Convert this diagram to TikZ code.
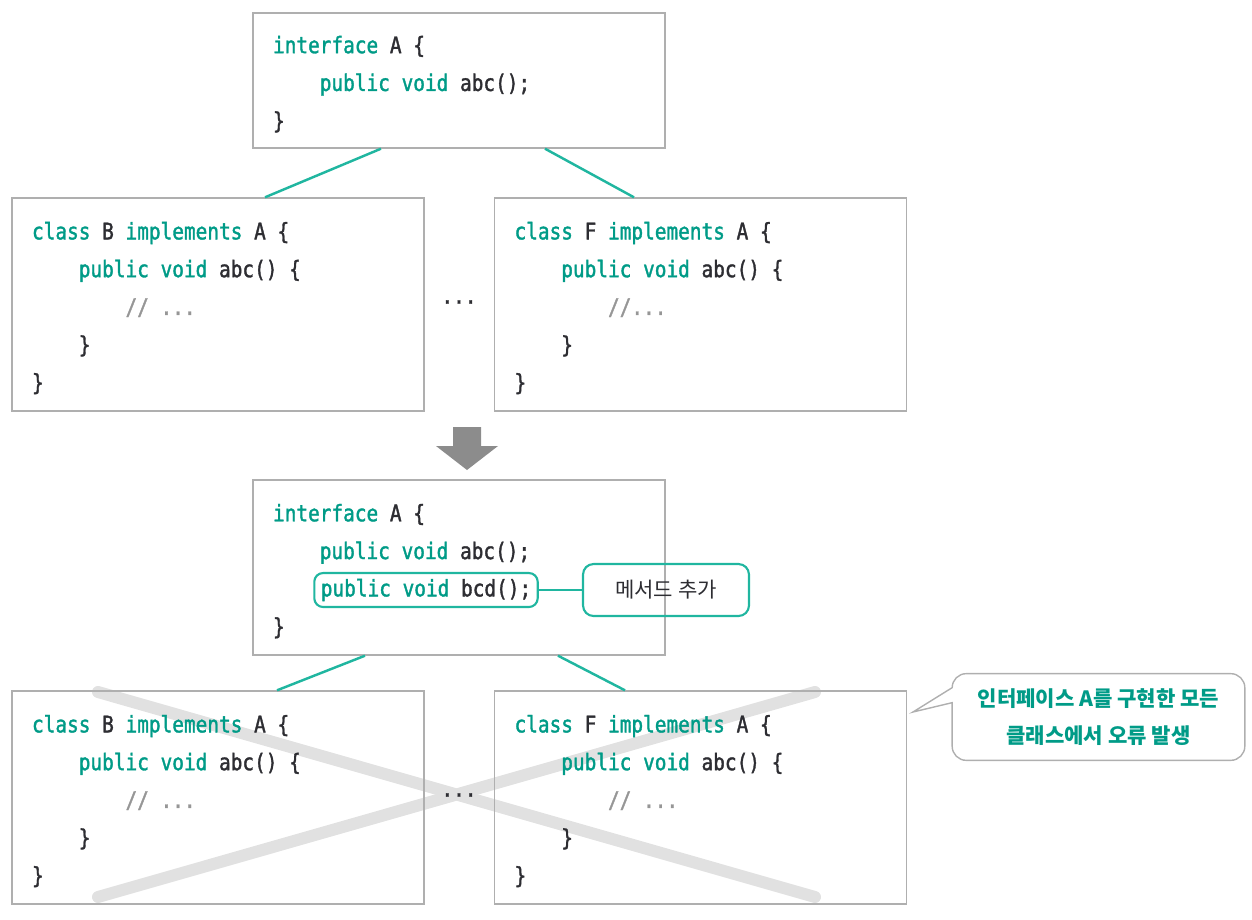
\documentclass[tikz,border=0pt]{standalone}
\usepackage{fontspec}
\usepackage{xcolor}
\usepackage{tikz}
\usetikzlibrary{calc, positioning}

\newfontfamily\codefont{DejaVu Sans Mono}[FakeStretch=0.85, FakeBold=1.5]
\newfontfamily\krfont{Noto Sans CJK KR}

\definecolor{kwteal}{RGB}{0,155,135}
\definecolor{lineteal}{RGB}{32,182,160}
\definecolor{codedark}{RGB}{45,45,50}
\definecolor{cmtgray}{RGB}{150,150,150}
\definecolor{boxgray}{RGB}{175,175,175}
\definecolor{crossgray}{RGB}{225,225,225}
\definecolor{arrowgray}{RGB}{140,140,140}

\newlength{\monow}
\newcommand{\codesetup}{\codefont\fontsize{13}{21.5}\selectfont\settowidth{\monow}{x}}
\newcommand{\kw}[1]{\textcolor{kwteal}{#1}}
\newcommand{\cmt}[1]{\textcolor{cmtgray}{#1}}
\newcommand{\ind}{\hphantom{xxxx}}

\begin{document}
\begin{tikzpicture}[x=0.02cm, y=-0.02cm, font=\codesetup, text=codedark]
\tikzstyle{codebox} = [draw=boxgray, line width=0.8pt, rectangle, align=left, text width=7.44cm, inner xsep=0.4cm, inner ysep=0pt, minimum width=8.24cm, execute at begin node={\spaceskip=\monow\xspaceskip=\monow\rule{0pt}{14pt}}]
\tikzstyle{hilite} = [draw=lineteal, line width=1.2pt, rounded corners=5pt, inner xsep=3.7pt, minimum height=0.68cm]
\tikzstyle{addbox} = [draw=lineteal, line width=1.2pt, rounded corners=6pt, minimum width=3.32cm, minimum height=1.04cm, font=\krfont\fontsize{12}{14}\selectfont]
\tikzstyle{bubble} = [align=center, text=kwteal, font=\krfont\bfseries\fontsize{12}{21.5}\selectfont, minimum width=5.84cm, minimum height=1.72cm]
\tikzstyle{tealline} = [draw=lineteal, line width=1.4pt]
\tikzstyle{cross} = [crossgray, line width=0.24cm, line cap=round]

\useasboundingbox (0,0) rectangle (1252,920);

% crossed-out classes, behind everything
\draw[cross] (98,692) -- (815,897);
\draw[cross] (98,897) -- (815,692);

\node[codebox, minimum height=2.7cm]	at (459, 80.5)	(ifaceT)	{\kw{interface} A \{\\ \ind\kw{public} \kw{void} abc();\\ \}};
\node[codebox, minimum height=4.26cm]	at (218, 304.5)	(classB)	{\kw{class} B \kw{implements} A \{\\ \ind\kw{public} \kw{void} abc() \{\\ \ind\ind\cmt{// ...}\\ \ind\}\\ \}};
\node[codebox, minimum height=4.26cm]	at (700.5, 304.5)	(classF)	{\kw{class} F \kw{implements} A \{\\ \ind\kw{public} \kw{void} abc() \{\\ \ind\ind\cmt{//...}\\ \ind\}\\ \}};
\node					at (459, 302)	(dotsT)		{...};

\node[codebox, minimum height=3.5cm]	at (459, 567.5)	(ifaceB)	{\kw{interface} A \{\\ \ind\kw{public} \kw{void} abc();\\ \mbox{}\\ \}};
\node[hilite]				at (426, 590)	(bcd)		{\kw{public} \kw{void} bcd();};
\node[addbox]				at (666, 590)	(added)		{메서드 추가};

\node[codebox, minimum height=4.26cm]	at (218, 797.5)	(classB2)	{\kw{class} B \kw{implements} A \{\\ \ind\kw{public} \kw{void} abc() \{\\ \ind\ind\cmt{// ...}\\ \ind\}\\ \}};
\node[codebox, minimum height=4.26cm]	at (700.5, 797.5)	(classF2)	{\kw{class} F \kw{implements} A \{\\ \ind\kw{public} \kw{void} abc() \{\\ \ind\ind\cmt{// ...}\\ \ind\}\\ \}};
\node					at (459, 795)	(dotsB)		{...};

\node[bubble]				at (1098.5, 717)	(err)		{인터페이스 A를 구현한 모든\\클래스에서 오류 발생};
\coordinate				(tip)	at (913, 712);

% connectors
\path[tealline]
($(ifaceT.south)+(-78,0)$)	edge	($(classB.north)+(47,0)$)
($(ifaceT.south)+(86,0)$)	edge	($(classF.north)+(-66.5,0)$)
($(ifaceB.south)+(-94,0)$)	edge	($(classB2.north)+(59,0)$)
($(ifaceB.south)+(99,0)$)	edge	($(classF2.north)+(-75.5,0)$)
(bcd)				edge	(added);

% down arrow
\fill[arrowgray] (453,427) -- (481,427) -- (481,446) -- (498,446) -- (467,470) -- (436,446) -- (453,446) -- cycle;

% speech bubble outline
\draw[boxgray, line width=0.8pt] ($(err.north west)+(0,14)$) -- (tip) -- ($(err.north west)+(0,29)$) [rounded corners=8pt] -- (err.south west) -- (err.south east) -- (err.north east) -- (err.north west) [sharp corners] -- cycle;
\end{tikzpicture}
\end{document}
